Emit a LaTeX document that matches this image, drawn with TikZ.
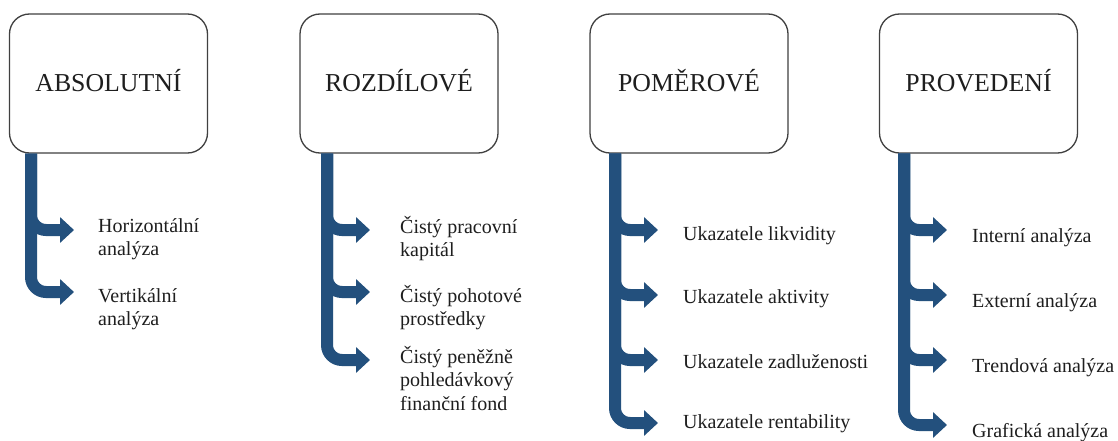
\documentclass[tikz,border=0pt]{standalone}
\usepackage{fontspec}
\setmainfont{Liberation Serif}
\usetikzlibrary{arrows.meta}
\definecolor{barblue}{RGB}{35,80,125}
\definecolor{boxgray}{RGB}{64,64,64}
\definecolor{textdark}{RGB}{30,30,30}
\begin{document}
\begin{tikzpicture}[x=1pt,y=-1pt,
  titlebox/.style={draw=boxgray, line width=1.3pt, rounded corners=20pt, fill=white,
    minimum width=198pt, minimum height=139pt, inner sep=0pt, text=textdark,
    font=\fontsize{25.8}{30}\selectfont, text height=17pt, text depth=0pt},
  branch/.style={draw=barblue, line width=12pt, rounded corners=15pt,
    -{Triangle[length=14pt,width=25pt]}},
  item/.style={anchor=base west, align=left, inner sep=0pt, text=textdark,
    font=\fontsize{20}{23.5}\selectfont}]
\useasboundingbox (0,0) rectangle (1118,441);
\fill[white] (0,0) rectangle (1118,441);

% title boxes
\node[titlebox] (A) at (108.5,83.5) {ABSOLUTNÍ};
\node[titlebox] (B) at (399,83.5) {ROZDÍLOVÉ};
\node[titlebox] (C) at (689,83.5) {POMĚROVÉ};
\node[titlebox] (D) at (978.5,83.5) {PROVEDENÍ};

% bar positions
\coordinate (Ax) at (31,0);
\coordinate (Bx) at (327,0);
\coordinate (Cx) at (615,0);
\coordinate (Dx) at (904,0);

% arrow tips
\coordinate (A1) at (74,230);
\coordinate (A2) at (74,292);
\coordinate (B1) at (370,230);
\coordinate (B2) at (370,292);
\coordinate (B3) at (370,360);
\coordinate (C1) at (658,230);
\coordinate (C2) at (658,295);
\coordinate (C3) at (658,360);
\coordinate (C4) at (658,423);
\coordinate (D1) at (947,230);
\coordinate (D2) at (947,295);
\coordinate (D3) at (947,360);
\coordinate (D4) at (947,425);

% connectors
\foreach \t in {A1,A2} \draw[branch] (A.south -| Ax) |- (\t);
\foreach \t in {B1,B2,B3} \draw[branch] (B.south -| Bx) |- (\t);
\foreach \t in {C1,C2,C3,C4} \draw[branch] (C.south -| Cx) |- (\t);
\foreach \t in {D1,D2,D3,D4} \draw[branch] (D.south -| Dx) |- (\t);

% items (base anchor = baseline of last line)
\node[item] (tA1) at (98,255.5) {Horizontální\\analýza};
\node[item] (tA2) at (98,325.5) {Vertikální\\analýza};
\node[item] (tB1) at (400,256.5) {Čistý pracovní\\kapitál};
\node[item] (tB2) at (400,325.5) {Čistý pohotové\\prostředky};
\node[item] (tB3) at (400,410) {Čistý peněžně\\pohledávkový\\finanční fond};
\node[item] (tC1) at (683,240) {Ukazatele likvidity};
\node[item] (tC2) at (683,303) {Ukazatele aktivity};
\node[item] (tC3) at (683,368) {Ukazatele zadluženosti};
\node[item] (tC4) at (683,428) {Ukazatele rentability};
\node[item] (tD1) at (972,242) {Interní analýza};
\node[item] (tD2) at (972,307) {Externí analýza};
\node[item] (tD3) at (972,372) {Trendová analýza};
\node[item] (tD4) at (972,437) {Grafická analýza};
\end{tikzpicture}
\end{document}
